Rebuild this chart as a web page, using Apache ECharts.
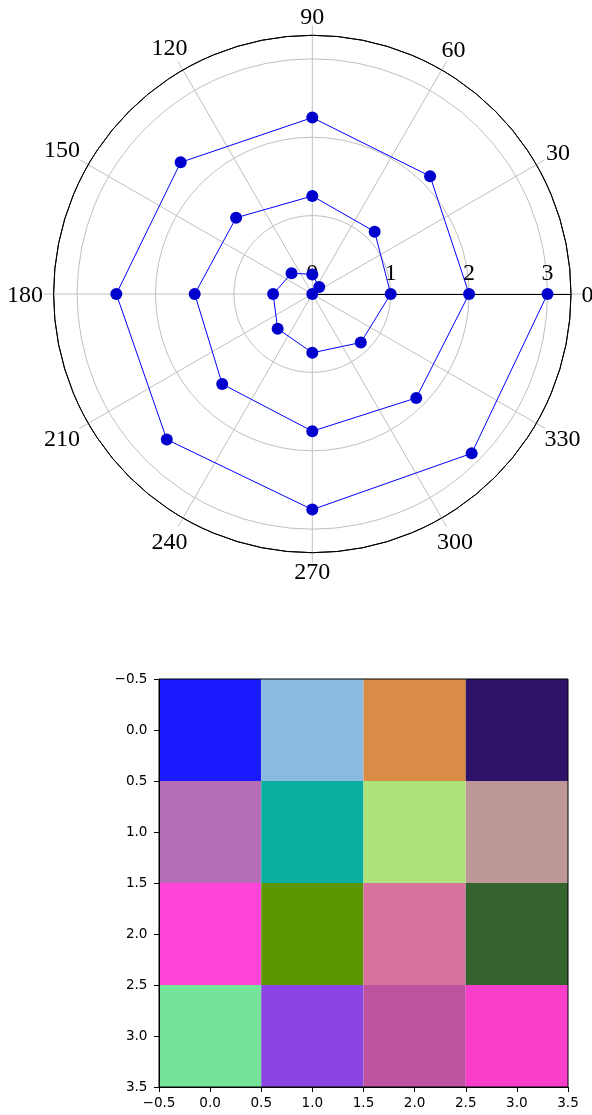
<!DOCTYPE html>
<html>
<head>
<meta charset="utf-8">
<script src="https://cdn.jsdelivr.net/npm/echarts@6/dist/echarts.min.js"></script>
<style>
html,body{margin:0;padding:0;background:#fff;}
#c{width:592px;height:1115px;}
</style>
</head>
<body>
<div id="c"></div>
<script>
// ---- polar spiral data (radius, angle in degrees) ----
var spiralR = [0, 0.125, 0.25, 0.375, 0.5, 0.625, 0.75, 0.875,
               1, 1.125, 1.25, 1.375, 1.5, 1.625, 1.75, 1.875,
               2, 2.125, 2.25, 2.375, 2.5, 2.625, 2.75, 2.875, 3];
var spiralAngle = [0, 45, 90, 135, 180, 225, 270, 315,
                   0, 45, 90, 135, 180, 225, 270, 315,
                   0, 45, 90, 135, 180, 225, 270, 315, 0];
var angleTicks = [0, 30, 60, 90, 120, 150, 180, 210, 240, 270, 300, 330];
var radiusTicks = [0, 1, 2, 3];
var radiusMax = 3.3;

// ---- image cells (row-major, row 0 at top) ----
var imageColors = [
  ['#1a1aff', '#88bae2', '#d98c46', '#2f136b'],
  ['#b56eb6', '#0cae9f', '#aee27a', '#be9898'],
  ['#ff44da', '#5b9603', '#d873a0', '#35632e'],
  ['#76e39b', '#8a44e1', '#bd52a1', '#f83ecb']
];
var imageTicks = [-0.5, 0, 0.5, 1, 1.5, 2, 2.5, 3, 3.5];

var spiralData = spiralR.map(function (r, i) { return [r, spiralAngle[i]]; });
var cellData = [];
imageColors.forEach(function (row, ri) {
  row.forEach(function (col, ci) { cellData.push([ci, ri, col]); });
});

function fmtTick(v) {
  return (v < 0 ? '\u2212' : '') + Math.abs(v).toFixed(1);
}

var serif = 'Liberation Serif';
var labelFont = 24;
// angle labels: centred on their ray, pushed out so the text box clears the circle
var measureCtx = document.createElement('canvas').getContext('2d');
measureCtx.font = labelFont + 'px ' + serif;
var angleLabelData = angleTicks.map(function (a) {
  var t = String(a);
  var hw = measureCtx.measureText(t).width / 2;
  var hh = 8.3;
  var rad = a * Math.PI / 180;
  var c = Math.cos(rad), s = Math.sin(rad);
  var d = 10.5 + hw * Math.abs(c) + hh * Math.abs(s);
  return {value: [radiusMax, a], label: {offset: [d * c, -d * s + 1.5]}};
});

var chart = echarts.init(document.getElementById('c'), null, {renderer: 'canvas'});
chart.setOption({
  animation: false,
  backgroundColor: '#ffffff',
  polar: {center: [312.3, 294], radius: 258.7},
  angleAxis: {
    type: 'value', min: 0, max: 360, interval: 30,
    startAngle: 0, clockwise: false,
    axisLine: {show: true, lineStyle: {color: '#000', width: 1}},
    axisTick: {show: true, length: 10, lineStyle: {color: '#bfbfbf', width: 1}},
    axisLabel: {show: false},
    splitLine: {show: true, lineStyle: {color: '#c0c0c0', width: 1}},
    z: 1
  },
  radiusAxis: {
    type: 'value', min: 0, max: radiusMax, interval: 1,
    axisLine: {show: true, lineStyle: {color: '#000', width: 1.2}},
    axisTick: {show: false},
    axisLabel: {show: true, color: '#000', fontFamily: serif, fontSize: labelFont, showMaxLabel: false,
      formatter: function (v) { return radiusTicks.indexOf(v) >= 0 ? String(v) : ''; }},
    splitLine: {show: true, lineStyle: {color: ['#c0c0c0', '#c0c0c0', '#c0c0c0', '#c0c0c0', '#000'], width: 1}},
    z: 1
  },
  grid: {left: 159, top: 679, width: 409, height: 408, show: true,
         borderColor: '#000', borderWidth: 1, backgroundColor: 'transparent', z: 10},
  xAxis: {
    type: 'value', min: -0.5, max: 3.5, interval: 0.5, position: 'bottom',
    axisLine: {show: true, onZero: false, lineStyle: {color: '#000', width: 1}},
    axisTick: {show: true, length: 5, lineStyle: {color: '#000'}},
    axisLabel: {margin: 9, color: '#000', fontFamily: 'DejaVu Sans', fontSize: 13.6,
      showMinLabel: true, showMaxLabel: true, formatter: fmtTick},
    splitLine: {show: false},
    z: 10
  },
  yAxis: {
    type: 'value', min: -0.5, max: 3.5, interval: 0.5, inverse: true,
    axisLine: {show: true, onZero: false, lineStyle: {color: '#000', width: 1}},
    axisTick: {show: true, length: 5, lineStyle: {color: '#000'}},
    axisLabel: {margin: 11.5, color: '#000', fontFamily: 'DejaVu Sans', fontSize: 13.6,
      showMinLabel: true, showMaxLabel: true, formatter: fmtTick},
    splitLine: {show: false},
    z: 10
  },
  series: [
    {
      type: 'line', coordinateSystem: 'polar', data: spiralData,
      symbol: 'circle', symbolSize: 12, showSymbol: true,
      lineStyle: {color: '#0000ff', width: 1},
      itemStyle: {color: '#0000cc', borderWidth: 0},
      clip: false, z: 5
    },
    {
      type: 'scatter', coordinateSystem: 'polar', data: angleLabelData,
      symbolSize: 0, itemStyle: {color: '#000000', opacity: 1},
      clip: false, silent: true,
      label: {show: true, position: 'inside', align: 'center', verticalAlign: 'middle',
        color: '#000000', opacity: 1, textBorderWidth: 0, fontFamily: serif, fontSize: labelFont,
        formatter: function (p) { return String(p.value[1]); }},
      z: 6
    },
    {
      type: 'custom', coordinateSystem: 'cartesian2d', data: cellData,
      encode: {x: 0, y: 1},
      renderItem: function (params, api) {
        var x = api.value(0), y = api.value(1);
        var p0 = api.coord([x - 0.5, y - 0.5]);
        var p1 = api.coord([x + 0.5, y + 0.5]);
        return {
          type: 'rect',
          shape: {x: Math.min(p0[0], p1[0]), y: Math.min(p0[1], p1[1]),
                  width: Math.abs(p1[0] - p0[0]), height: Math.abs(p1[1] - p0[1])},
          style: {fill: cellData[params.dataIndex][2], stroke: null}
        };
      },
      z: 2
    }
  ]
});
</script>
</body>
</html>
